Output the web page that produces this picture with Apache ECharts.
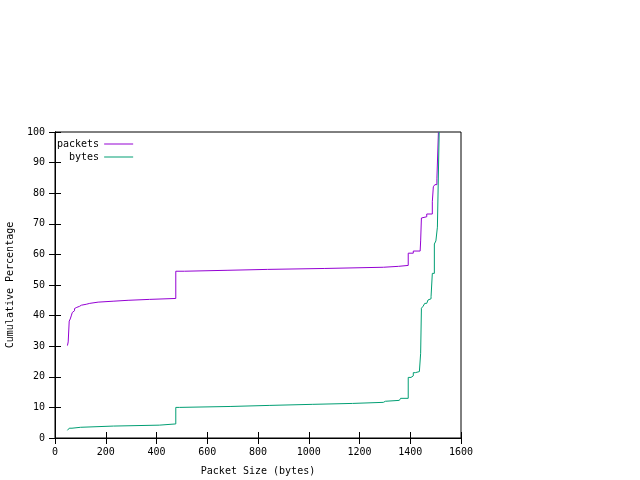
<!DOCTYPE html>
<html>
<head>
<meta charset="utf-8">
<script src="https://cdn.jsdelivr.net/npm/echarts@6/dist/echarts.min.js"></script>
<style>
  html, body { margin: 0; padding: 0; background: #fff; }
  #chart { width: 640px; height: 480px; }
</style>
</head>
<body>
<div id="chart"></div>
<script>
// cumulative distribution (step at each size)
const pktSize = [49, 52, 56, 60, 64, 68, 73, 77, 81, 86, 96, 104, 123, 137, 170, 229, 288, 373,
  476, 510, 678, 837, 1061, 1294, 1354, 1392, 1412, 1439, 1441, 1444, 1451, 1465, 1487, 1491,
  1497, 1505, 1511];
const pktPct = [30.2, 31.4, 38.2, 38.9, 39.9, 41.0, 41.6, 42.3, 42.7, 43.0, 43.4, 43.7, 44.0, 44.4,
  44.7, 45.0, 45.3, 45.6, 54.5, 54.8, 55.1, 55.4, 55.8, 56.1, 56.4, 60.4, 61.1, 61.1, 64.4, 71.9,
  72.3, 73.2, 77.2, 82.1, 82.8, 84.7, 100];

const byteSize = [49, 56, 67, 101, 230, 411, 476, 490, 690, 844, 1016, 1172, 1294, 1302, 1357,
  1362, 1392, 1403, 1412, 1420, 1436, 1441, 1444, 1451, 1457, 1465, 1470, 1476, 1482, 1487,
  1495, 1501, 1507, 1514];
const bytePct = [2.5, 3.2, 3.5, 3.9, 4.2, 4.6, 10.0, 10.3, 10.65, 11.0, 11.3, 11.65, 12.0, 12.3,
  12.6, 12.96, 19.8, 20.3, 21.35, 21.7, 22.2, 27.7, 42.4, 43.1, 44.0, 44.6, 45.1, 45.5, 46.2,
  53.8, 63.4, 64.4, 68.9, 100];

const xTicks = { min: 0, max: 1600, interval: 200 };
const yTicks = { min: 0, max: 100, interval: 10 };

const font = "DejaVu Sans Mono";
const pairs = (xs, ys) => xs.map((x, i) => [x, ys[i]]);

const chart = echarts.init(document.getElementById("chart"), null, { renderer: "canvas" });

const axisCommon = {
  type: "value",
  axisLine: { show: true, lineStyle: { color: "#000", width: 1 } },
  axisTick: { show: true, inside: true, length: 6, lineStyle: { color: "#000" } },
  splitLine: { show: false }
};

chart.setOption({
  animation: false,
  backgroundColor: "#fff",
  textStyle: { fontFamily: font },
  grid: {
    left: 55, right: 179, top: 132, bottom: 42,
    outerBoundsMode: "none",
    show: true, borderColor: "#000", borderWidth: 1
  },
  legend: {
    orient: "vertical",
    left: 57,
    top: 139,
    padding: 0,
    align: "right",
    icon: "rect",
    itemWidth: 29,
    itemHeight: 1,
    itemGap: 3,
    textStyle: { fontFamily: font, fontSize: 10, color: "#000" },
    data: ["packets", "bytes"]
  },
  xAxis: [
    Object.assign({}, axisCommon, xTicks, {
      position: "bottom",
      name: "Packet Size (bytes)",
      nameLocation: "middle",
      nameGap: 28,
      nameTextStyle: { fontFamily: font, fontSize: 10, color: "#000" },
      axisLabel: { fontFamily: font, fontSize: 10, color: "#000", margin: 9, formatter: v => String(v) }
    }),
    Object.assign({}, axisCommon, xTicks, {
      position: "top",
      axisLabel: { show: false }
    })
  ],
  yAxis: [
    Object.assign({}, axisCommon, yTicks, {
      position: "left",
      name: "Cumulative Percentage",
      nameLocation: "middle",
      nameGap: 40,
      nameTextStyle: { fontFamily: font, fontSize: 10, color: "#000" },
      axisLabel: { fontFamily: font, fontSize: 10, color: "#000", margin: 10 }
    }),
    Object.assign({}, axisCommon, yTicks, {
      position: "right",
      axisLabel: { show: false }
    })
  ],
  series: [
    {
      name: "packets",
      type: "line",
      step: "end",
      symbol: "none",
      color: "#9400d3",
      lineStyle: { width: 1 },
      data: pairs(pktSize, pktPct)
    },
    {
      name: "bytes",
      type: "line",
      step: "end",
      symbol: "none",
      color: "#009e73",
      lineStyle: { width: 1 },
      data: pairs(byteSize, bytePct)
    }
  ]
});
</script>
</body>
</html>
